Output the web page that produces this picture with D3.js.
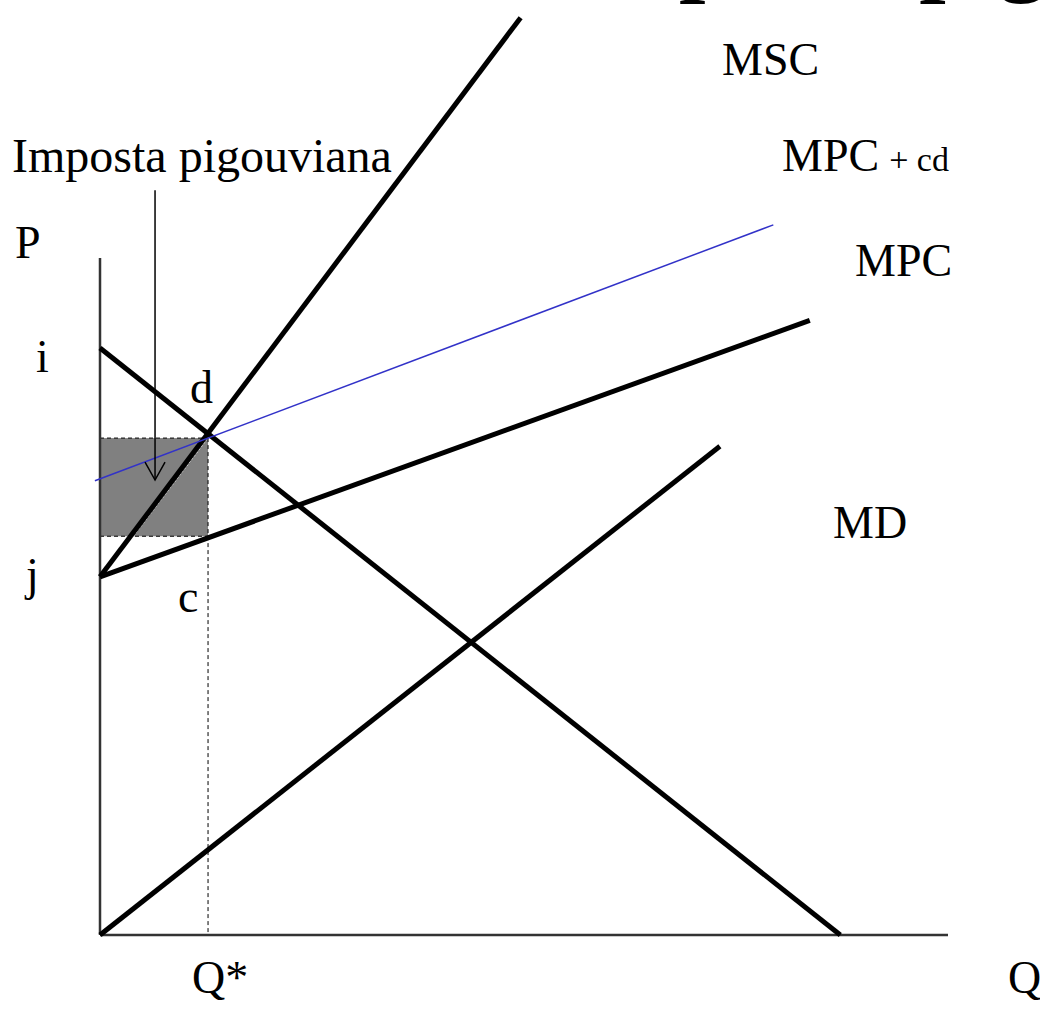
<!DOCTYPE html>
<html>
<head>
<meta charset="utf-8">
<script src="https://cdn.jsdelivr.net/npm/d3@7"></script>
<style>
  html, body { margin: 0; padding: 0; background: #fff; }
  svg { display: block; }
  text { font-family: "Liberation Serif", "Times New Roman", serif; fill: #000; }
</style>
</head>
<body>
<script>
// ---------- data (abstract Q / P units) ----------
const axisExtent = [0, 100];               // Q and P axis domain
const curveNames = ["MSC", "MPC", "D", "MD", "MPC+cd"];
const curveQ0 = [0, 0, 0, 0, -0.6];        // start quantity
const curveP0 = [52.9, 52.9, 86.7, 0, 67.1];   // start price
const curveQ1 = [49.6, 83.7, 87.3, 73.1, 79.4]; // end quantity
const curveP1 = [135.5, 90.8, 0, 72.2, 104.9];  // end price
const qStar = 12.74;
const taxTop = 73.4;      // price at d
const taxBottom = 58.9;   // price at c
const arrowQ = 6.49;
const arrowP = [110, 67.2];
const pointLabels = ["i", "d", "j", "c"];
const curveLabels = ["MSC", "MPC", "MD"];

// ---------- chart ----------
const W = 1040, H = 1024;
const svg = d3.select("body").append("svg").attr("width", W).attr("height", H);

const x = d3.scaleLinear().domain(axisExtent).range([100, 948]);
const y = d3.scaleLinear().domain(axisExtent).range([935, 258]);

// cut-off big title at the very top
svg.append("text").attr("x", 563).attr("y", -16)
  .attr("font-size", 95).attr("font-weight", "bold")
  .text("Imposta pigouviana");

// shaded tax rectangle
svg.append("rect")
  .attr("x", x(0)).attr("y", y(taxTop))
  .attr("width", x(qStar) - x(0)).attr("height", y(taxBottom) - y(taxTop))
  .attr("fill", "#808080");

// white dotted edge inside the rectangle
const mscSlope = (curveP1[0] - curveP0[0]) / (curveQ1[0] - curveQ0[0]);
const qAtBottom = (taxBottom - curveP0[0]) / mscSlope;
svg.append("line")
  .attr("x1", x(qAtBottom) + 3).attr("y1", y(taxBottom))
  .attr("x2", x(qStar)).attr("y2", y(taxTop))
  .attr("stroke", "#e0e0e0").attr("stroke-width", 1).attr("stroke-dasharray", "2,2");

// dashed guides
const dash = "4,3";
svg.append("line").attr("x1", x(0)).attr("y1", y(taxTop)).attr("x2", x(qStar)).attr("y2", y(taxTop))
  .attr("stroke", "#000").attr("stroke-width", 1).attr("stroke-dasharray", dash);
svg.append("line").attr("x1", x(0)).attr("y1", y(taxBottom)).attr("x2", x(qStar)).attr("y2", y(taxBottom))
  .attr("stroke", "#000").attr("stroke-width", 1).attr("stroke-dasharray", dash);
svg.append("line").attr("x1", x(qStar)).attr("y1", y(taxTop)).attr("x2", x(qStar)).attr("y2", y(0))
  .attr("stroke", "#000").attr("stroke-width", 1).attr("stroke-dasharray", dash);

// axes
svg.append("line").attr("x1", x(0)).attr("y1", y(0)).attr("x2", x(0)).attr("y2", y(axisExtent[1]))
  .attr("stroke", "#333").attr("stroke-width", 2.5);
svg.append("line").attr("x1", x(0)).attr("y1", y(0)).attr("x2", x(axisExtent[1])).attr("y2", y(0))
  .attr("stroke", "#333").attr("stroke-width", 2.5);

// curves
const curves = curveNames.map((n, i) => ({
  name: n, pts: [[curveQ0[i], curveP0[i]], [curveQ1[i], curveP1[i]]]
}));
const line = d3.line().x(d => x(d[0])).y(d => y(d[1]));
svg.selectAll("path.curve").data(curves).enter().append("path")
  .attr("class", "curve")
  .attr("d", d => line(d.pts))
  .attr("fill", "none")
  .attr("stroke", d => d.name === "MPC+cd" ? "#3232c8" : "#000")
  .attr("stroke-width", d => d.name === "MPC+cd" ? 1.5 : 5)
  .attr("stroke-linecap", "butt");

// arrow
svg.append("line").attr("x1", x(arrowQ)).attr("y1", y(arrowP[0])).attr("x2", x(arrowQ)).attr("y2", y(arrowP[1]))
  .attr("stroke", "#000").attr("stroke-width", 1.5);
svg.append("path")
  .attr("d", `M${x(arrowQ) - 10},${y(arrowP[1]) - 18} L${x(arrowQ)},${y(arrowP[1])} L${x(arrowQ) + 10},${y(arrowP[1]) - 18}`)
  .attr("fill", "none").attr("stroke", "#000").attr("stroke-width", 1.5);

// labels
const fs = 46;
svg.append("text").attr("x", 12).attr("y", 172).attr("font-size", 48).text("Imposta pigouviana");
svg.append("text").attr("x", 15).attr("y", 258).attr("font-size", fs).text("P");
const ptPos = [[36, 372], [190, 403], [26, 590], [178, 612]];
pointLabels.forEach((t, i) => {
  svg.append("text").attr("x", ptPos[i][0]).attr("y", ptPos[i][1]).attr("font-size", fs).text(t);
});
const clPos = [[722, 75], [855, 276], [833, 538]];
curveLabels.forEach((t, i) => {
  svg.append("text").attr("x", clPos[i][0]).attr("y", clPos[i][1]).attr("font-size", fs).text(t);
});
const mpcd = svg.append("text").attr("x", 782).attr("y", 171).attr("font-size", fs);
mpcd.append("tspan").text("MPC");
mpcd.append("tspan").attr("font-size", 34).attr("dx", 10).text("+ cd");
svg.append("text").attr("x", 192).attr("y", 993).attr("font-size", fs).text("Q*");
svg.append("text").attr("x", 1008).attr("y", 993).attr("font-size", fs).text("Q");
</script>
</body>
</html>
